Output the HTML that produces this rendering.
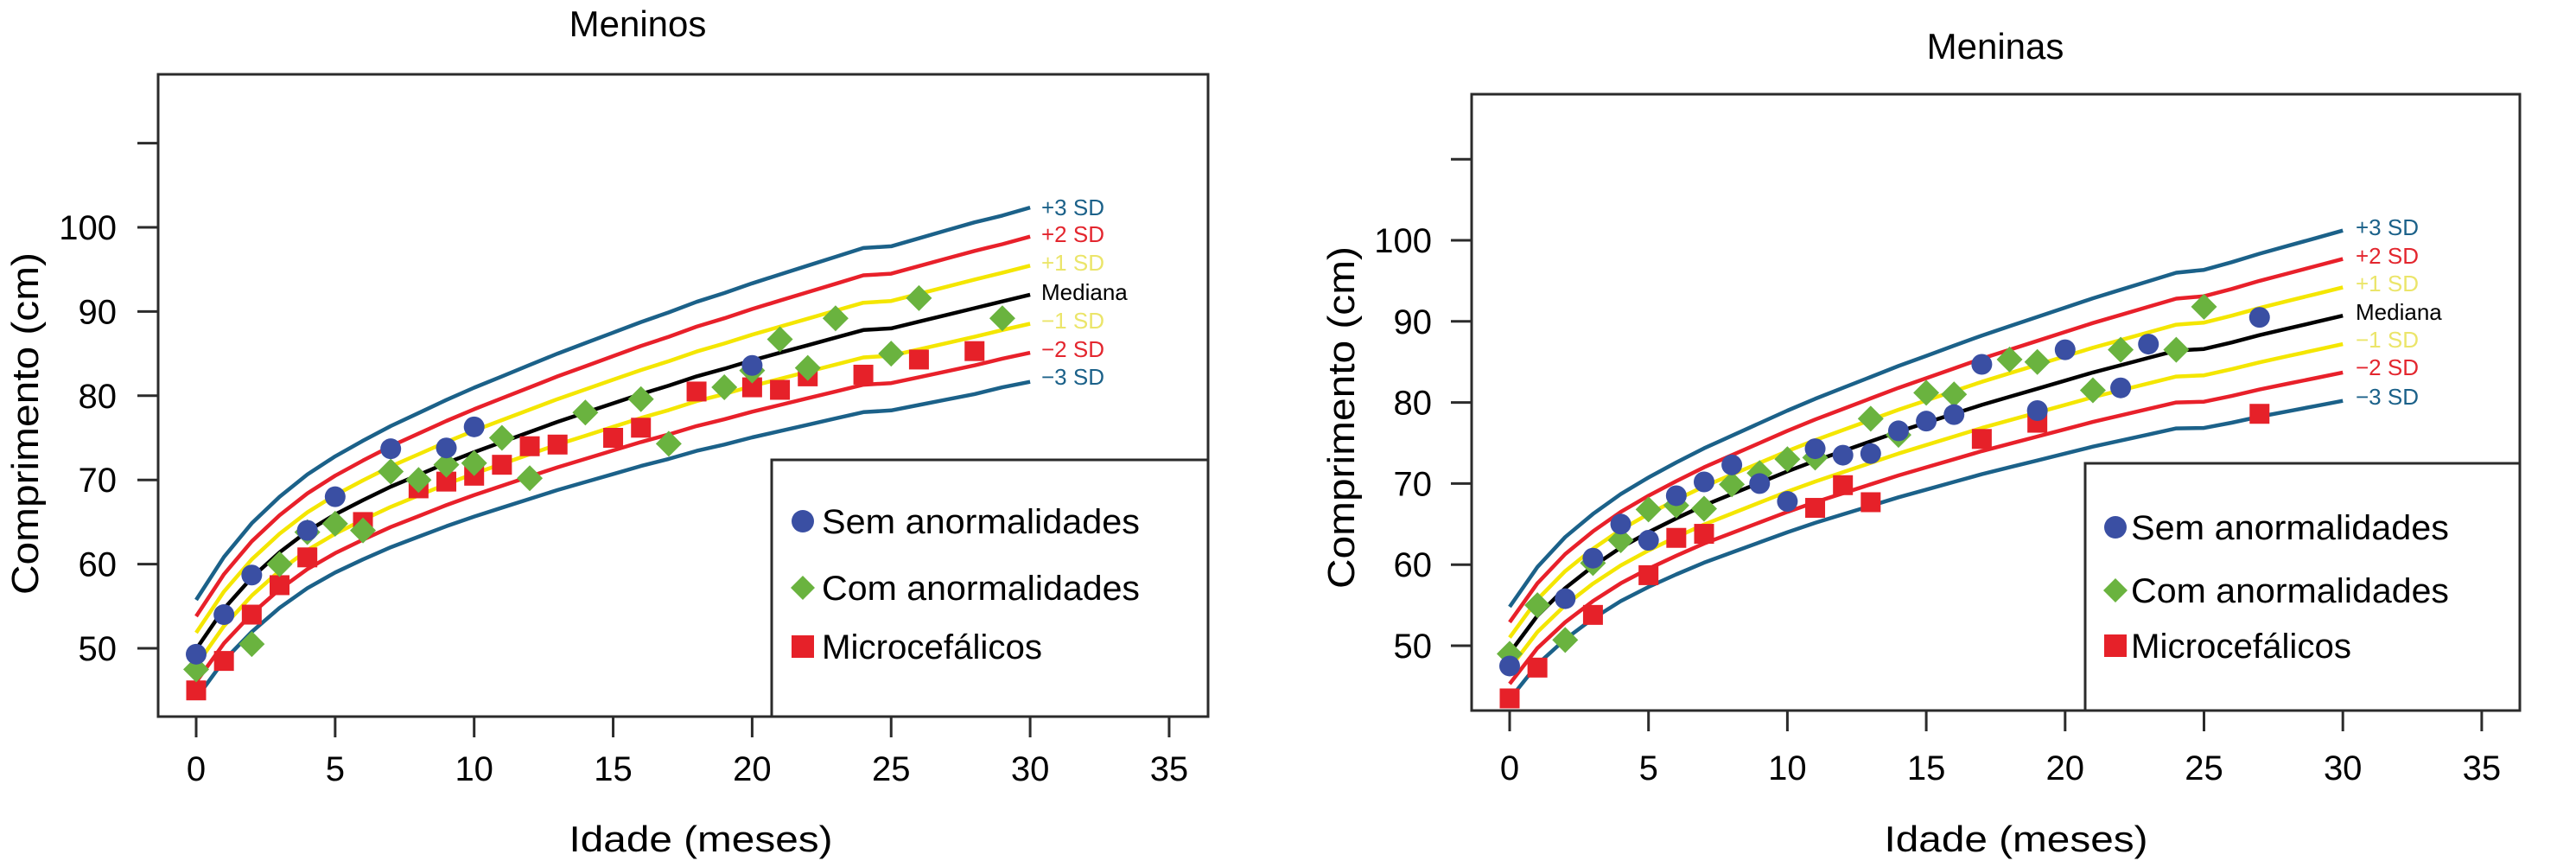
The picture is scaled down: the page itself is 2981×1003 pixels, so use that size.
<!DOCTYPE html>
<html><head><meta charset="utf-8">
<style>
html,body{margin:0;padding:0;background:#fff;}
svg{display:block;font-family:"Liberation Sans",Arial,sans-serif;}
</style></head>
<body>
<svg id="chart" width="2981" height="1003" viewBox="0 0 2981 1003" xmlns="http://www.w3.org/2000/svg">
  <rect x="0" y="0" width="2981" height="1003" fill="#fff"/>
</svg>
<script>
// ---------- data ----------
const months = [0,1,2,3,4,5,6,7,8,9,10,11,12,13,14,15,16,17,18,19,20,21,22,23,24,25,26,27,28,29,30];
const xTicks = [0,5,10,15,20,25,30,35];
const yTicks = [50,60,70,80,90,100,110];
const yTickLabels = ["50","60","70","80","90","100",""];
const sdLevels = [3,2,1,0,-1,-2,-3];
const sdLabels = ["+3 SD","+2 SD","+1 SD","Mediana","\u22121 SD","\u22122 SD","\u22123 SD"];

const boysMedian = [49.9,54.7,58.4,61.4,63.9,65.9,67.6,69.2,70.6,72.0,73.3,74.5,75.7,76.9,78.0,79.1,80.2,81.2,82.3,83.2,84.2,85.1,86.0,86.9,87.8,88.0,88.8,89.6,90.4,91.2,92.0];
const boysSD = [1.95,2.05,2.15,2.2,2.25,2.3,2.35,2.4,2.45,2.5,2.55,2.6,2.65,2.7,2.75,2.8,2.85,2.9,2.95,3.0,3.05,3.1,3.15,3.2,3.25,3.25,3.3,3.35,3.4,3.4,3.45];
const girlsMedian = [49.1,53.7,57.1,59.8,62.1,64.0,65.7,67.3,68.7,70.1,71.5,72.8,74.0,75.2,76.4,77.5,78.6,79.7,80.7,81.7,82.7,83.7,84.6,85.5,86.4,86.6,87.4,88.3,89.1,89.9,90.7];
const girlsSD = [1.9,2.0,2.1,2.15,2.2,2.25,2.3,2.35,2.4,2.45,2.5,2.55,2.6,2.65,2.7,2.75,2.8,2.85,2.9,2.95,3.0,3.05,3.1,3.15,3.2,3.25,3.3,3.35,3.4,3.45,3.5];

const boysSemX = [0,1,2,4,5,7,9,10,20];
const boysSemY = [49.3,54,58.7,64,68,73.7,73.8,76.3,83.6];
const boysComX = [0,2,3,4,5,6,7,8,9,10,11,12,14,16,17,19,20,21,22,23,25,26,29];
const boysComY = [47.5,50.5,60,63.8,64.8,64,71,70,71.8,72,75,70.2,78,79.6,74.3,81,83,86.7,83.3,89.2,85,91.6,89.2];
const boysMicX = [0,1,2,3,4,6,8,9,10,11,12,13,15,16,18,20,21,22,24,26,28];
const boysMicY = [45,48.5,54,57.5,60.8,65,69,69.8,70.5,71.8,74,74.2,75,76.2,80.5,81,80.7,82.3,82.5,84.3,85.3];

const girlsSemX = [0,2,3,4,5,6,7,8,9,10,11,12,13,14,15,16,17,19,20,22,23,27];
const girlsSemY = [47.5,55.8,60.8,65,63,68.5,70.2,72.3,70,67.8,74.3,73.5,73.7,76.5,77.7,78.5,84.7,79,86.5,81.8,87.2,90.5];
const girlsComX = [0,1,2,3,4,5,6,7,8,9,10,11,13,14,15,16,18,19,21,22,24,25];
const girlsComY = [49,55,50.7,60.2,63,66.8,67.3,66.9,69.9,71.3,73,73.2,78,76,81.2,81,85.3,85,81.5,86.5,86.5,91.8];
const girlsMicX = [0,1,3,5,6,7,11,12,13,17,19,27];
const girlsMicY = [43.5,47.3,53.8,58.7,63.3,63.8,67,69.8,67.7,75.5,77.5,78.6];

const legendLabels = ["Sem anormalidades","Com anormalidades","Microcef\u00e1licos"];
</script>
<script>
const NS = "http://www.w3.org/2000/svg";
const svg = document.getElementById("chart");
function mk(tag, attrs, parent) {
  const e = document.createElementNS(NS, tag);
  for (const k in attrs) e.setAttribute(k, attrs[k]);
  (parent || svg).appendChild(e);
  return e;
}
const lineColors = {3:"#1b6189",2:"#e8202a",1:"#f4e600",0:"#000000"};
const labelColors = {3:"#1b6189",2:"#e3262e",1:"#ebe56a",0:"#000000"};
const COL_BLUE = "#3a4fa3", COL_GREEN = "#6ab33f", COL_RED = "#e62129";

function drawChart(cfg) {
  const g = mk("g", {});
  
  
  const X = m => cfg.x0 + m * cfg.xs;
  const Y = v => cfg.y50 - (v - 50) * cfg.ys;

  // title
  const t = mk("text", {x: cfg.titleX, y: cfg.titleY, "text-anchor": "middle", "font-size": 42, fill: "#000"}, g);
  t.textContent = cfg.title;
  
  

  // curves
  const cg = mk("g", {}, g);
  
  
  sdLevels.forEach((k, i) => {
    const pts = months.map((m, j) => X(m).toFixed(1) + "," + Y(cfg.median[j] + k * cfg.sd[j]).toFixed(1)).join(" ");
    const pl = mk("polyline", {points: pts, fill: "none", stroke: lineColors[Math.abs(k)], "stroke-width": 4.5, "stroke-linejoin": "round"}, cg);
    
    
    const lb = mk("text", {x: cfg.lblX, y: cfg.lblY[i], "font-size": 26, fill: labelColors[Math.abs(k)]}, cg);
    lb.textContent = sdLabels[i];
    
    
  });

  // points
  function circle(x, y, r, parent) {
    const c = mk("circle", {cx: x, cy: y, r: r, fill: COL_BLUE}, parent);
    
    
  }
  function diamond(x, y, r, parent) {
    const p = mk("polygon", {points: `${x},${y-r} ${x+r},${y} ${x},${y+r} ${x-r},${y}`, fill: COL_GREEN}, parent);
    
    
  }
  function square(x, y, s, parent) {
    const r = mk("rect", {x: x - s/2, y: y - s/2, width: s, height: s, fill: COL_RED}, parent);
    
    
  }
  const pg = mk("g", {}, g);
  
  
  cfg.micX.forEach((m, i) => square(X(m), Y(cfg.micY[i]), 23, pg));
  cfg.comX.forEach((m, i) => diamond(X(m), Y(cfg.comY[i]), 15, pg));
  cfg.semX.forEach((m, i) => circle(X(m), Y(cfg.semY[i]), 12, pg));

  // box
  const bx = mk("rect", {x: cfg.bx0, y: cfg.by0, width: cfg.bx1 - cfg.bx0, height: cfg.by1 - cfg.by0, fill: "none", stroke: "#2b2b2b", "stroke-width": 3}, g);
  
  

  // y ticks
  const yg = mk("g", {}, g);
  
  
  yTicks.forEach((v, i) => {
    const tl = mk("line", {x1: cfg.bx0 - 24, x2: cfg.bx0, y1: Y(v), y2: Y(v), stroke: "#2b2b2b", "stroke-width": 3}, yg);
    
    
    if (yTickLabels[i]) {
      const tx = mk("text", {x: cfg.yLblRight, y: Y(v) + 14, "text-anchor": "end", "font-size": 40, fill: "#000"}, yg);
      tx.textContent = yTickLabels[i];
      
      
    }
  });
  const yt = mk("text", {x: 0, y: 0, "text-anchor": "middle", "font-size": 44, fill: "#000",
    transform: `translate(${cfg.yTitleX},${cfg.yTitleY}) rotate(-90)`, textLength: 396, lengthAdjust: "spacingAndGlyphs"}, yg);
  yt.textContent = "Comprimento (cm)";
  
  

  // x ticks
  const xg = mk("g", {}, g);
  
  
  xTicks.forEach(m => {
    const tl = mk("line", {x1: X(m), x2: X(m), y1: cfg.by1, y2: cfg.by1 + 24, stroke: "#2b2b2b", "stroke-width": 3}, xg);
    
    
    const tx = mk("text", {x: X(m), y: cfg.xLblY, "text-anchor": "middle", "font-size": 40, fill: "#000"}, xg);
    tx.textContent = String(m);
    
    
  });
  const xt = mk("text", {x: cfg.xTitleX, y: 985, "text-anchor": "middle", "font-size": 42, fill: "#000", textLength: 305, lengthAdjust: "spacingAndGlyphs"}, xg);
  xt.textContent = "Idade (meses)";
  
  

  // legend
  const lg = mk("g", {}, g);
  
  
  const lr = mk("rect", {x: cfg.lgX0, y: cfg.lgY0, width: cfg.bx1 - cfg.lgX0, height: cfg.by1 - cfg.lgY0, fill: "#fff", stroke: "#2b2b2b", "stroke-width": 3}, lg);
  
  
  cfg.lgBase.forEach((b, i) => {
    const cy = b - 14;
    if (i === 0) circle(cfg.lgMarkX, cy, 13, lg);
    if (i === 1) diamond(cfg.lgMarkX, cy, 14, lg);
    if (i === 2) square(cfg.lgMarkX, cy, 26, lg);
    const tx = mk("text", {x: cfg.lgTextX, y: b, "font-size": 40, fill: "#000", textLength: i === 2 ? 255 : 368, lengthAdjust: "spacingAndGlyphs"}, lg);
    tx.textContent = legendLabels[i];
    
    
  });
}

drawChart({
  name: "chart-meninos", title: "Meninos", titleX: 738, titleY: 42,
  x0: 227, xs: 32.17, y50: 750, ys: 9.74,
  bx0: 183, bx1: 1398, by0: 86, by1: 829,
  median: boysMedian, sd: boysSD,
  semX: boysSemX, semY: boysSemY, comX: boysComX, comY: boysComY, micX: boysMicX, micY: boysMicY,
  lblX: 1205, lblY: [249,280,313,347,380,413,445],
  yLblRight: 135, yTitleX: 44, yTitleY: 490, xLblY: 903, xTitleX: 811,
  lgX0: 893, lgY0: 532, lgMarkX: 929, lgTextX: 951, lgBase: [617,694,762]
});
drawChart({
  name: "chart-meninas", title: "Meninas", titleX: 2309, titleY: 68,
  x0: 1747, xs: 32.14, y50: 747, ys: 9.38,
  bx0: 1703, bx1: 2916, by0: 109, by1: 822,
  median: girlsMedian, sd: girlsSD,
  semX: girlsSemX, semY: girlsSemY, comX: girlsComX, comY: girlsComY, micX: girlsMicX, micY: girlsMicY,
  lblX: 2726, lblY: [272,305,337,370,402,434,468],
  yLblRight: 1657, yTitleX: 1567, yTitleY: 483, xLblY: 902, xTitleX: 2333,
  lgX0: 2413, lgY0: 536, lgMarkX: 2448, lgTextX: 2466, lgBase: [624,697,761]
});
</script>
</body></html>
